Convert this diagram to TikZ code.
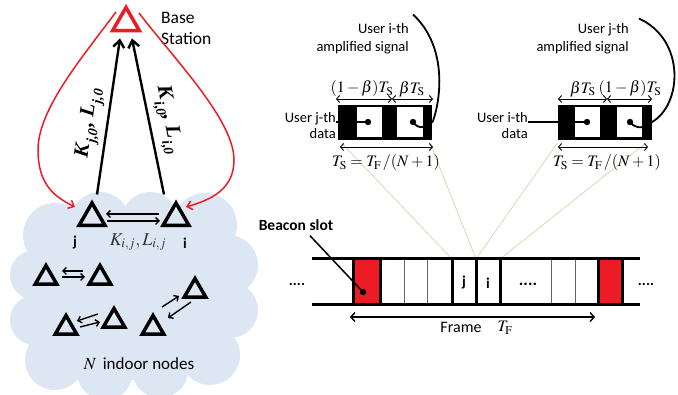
\documentclass[tikz,border=0pt]{standalone}
\usepackage{mathptmx}
\usepackage[no-math]{fontspec}
\setmainfont{Carlito}
\newfontfamily\tnrfont{Liberation Serif}
\newcommand\bsubx[1]{\kern1.5pt\raisebox{-0.3em}{\fontsize{14}{14}\selectfont #1}\kern0.5pt}
\usetikzlibrary{shapes.geometric,arrows.meta}
\definecolor{cloudblue}{RGB}{221,231,243}
\definecolor{tanline}{RGB}{226,212,176}
\definecolor{bsred}{RGB}{237,28,36}
\begin{document}
\begin{tikzpicture}[x=1pt,y=-1pt,
  tri/.style={regular polygon, regular polygon sides=3, minimum size=30pt, inner sep=0pt, draw=black, line width=3.5pt},
  smalltri/.style={tri, minimum size=25pt},
  bigarrow/.style={line width=2.4pt, -{Straight Barb[length=7pt,width=11pt]}},
  pairarrow/.style={line width=1.4pt, -{Straight Barb[length=3.5pt,width=7pt]}},
  redarrow/.style={bsred, line width=1.5pt, -{Straight Barb[length=5pt,width=9pt]}},
  dblarrow/.style={line width=0.9pt, {Straight Barb[length=3pt,width=7pt]}-{Straight Barb[length=3pt,width=7pt]}},
  framearrow/.style={line width=1.4pt, {Straight Barb[length=4pt,width=9pt]}-{Straight Barb[length=4pt,width=9pt]}},
  sans/.style={font=\fontsize{14.5}{17}\selectfont, inner sep=0pt},
  mathlbl/.style={font=\fontsize{16}{18}\selectfont, inner sep=0pt},
  biglbl/.style={font=\fontsize{18}{20}\selectfont, inner sep=0pt},
  uplbl/.style={font=\fontsize{21}{22}\selectfont\tnrfont\bfseries\itshape, inner sep=0pt},
  boldlbl/.style={font=\fontsize{15}{18}\selectfont\bfseries, inner sep=0pt},
  blackbox/.style={fill=black, inner sep=0pt, minimum width=94pt, minimum height=35pt},
  whitesq/.style={fill=white, inner sep=0pt, minimum height=30pt},
  faint/.style={draw=tanline, line width=0.8pt},
  thickv/.style={line width=3pt},
  thinv/.style={line width=0.8pt, draw=black!60},
  frameline/.style={line width=3pt}
]
\useasboundingbox (0,0) rectangle (678,395);

% cloud
\fill[cloudblue] (55,235) circle[radius=32] (100,222) circle[radius=30]
  (150,220) circle[radius=28] (205,225) circle[radius=32]
  (228,265) circle[radius=30] (230,310) circle[radius=28]
  (210,355) circle[radius=30] (160,370) circle[radius=28]
  (105,372) circle[radius=28] (55,360) circle[radius=30]
  (35,320) circle[radius=25] (35,275) circle[radius=25]
  (130,295) circle[radius=85];

% base station and nodes
\node[tri, draw=bsred, minimum size=31pt] (bs) at (126,23) {};
\node[sans, font=\fontsize{17.5}{21}\selectfont, align=left, anchor=west] (bslbl) at (161,28) {Base\\Station};
\node[tri] (j) at (92,218) {};
\node[tri] (i) at (176,218) {};
\node[smalltri] (t1) at (46,278) {};
\node[smalltri] (t2) at (100,278) {};
\node[smalltri] (t3) at (195,291) {};
\node[smalltri] (t4) at (66,328) {};
\node[smalltri] (t5) at (114,321) {};
\node[smalltri] (t6) at (153,328) {};

% uplinks
\draw[bigarrow] ([xshift=5pt,yshift=5pt]j.corner 1) -- ([xshift=-6pt,yshift=-6pt]bs.side 2);
\draw[bigarrow] ([xshift=-12pt,yshift=5pt]i.corner 1) -- ([xshift=6pt,yshift=-6pt]bs.side 2);
\node[uplbl, rotate=82] (kj0) at (90,123) {K\bsubx{j,0}, L\bsubx{j,0}};
\node[uplbl, rotate=-79] (ki0) at (167,120) {K\bsubx{i,0}, L\bsubx{i,0}};

% red loops
\draw[redarrow] ([xshift=-10pt,yshift=11pt]bs.center) .. controls (80,60) and (38,110) .. (38,150)
  .. controls (38,185) and (55,197) .. ([xshift=-17pt,yshift=11pt]j.center);
\draw[redarrow] ([xshift=13pt,yshift=10pt]bs.center) .. controls (175,60) and (234,120) .. (234,160)
  .. controls (234,190) and (210,200) .. ([xshift=10pt,yshift=11pt]i.center);

% pair arrows
\draw[pairarrow] ([xshift=-17pt,yshift=4pt]i.center) -- ([xshift=14pt,yshift=4pt]j.center);
\draw[pairarrow] ([xshift=15pt,yshift=-3pt]j.center) -- ([xshift=-16pt,yshift=-3pt]i.center);
\draw[pairarrow] ([xshift=-17pt,yshift=7pt]t2.center) -- ([xshift=16pt,yshift=7pt]t1.center);
\draw[pairarrow] ([xshift=16pt,yshift=1pt]t1.center) -- ([xshift=-15pt,yshift=1pt]t2.center);
\draw[pairarrow] ([xshift=-16pt,yshift=7pt]t5.center) -- ([xshift=11pt,yshift=7pt]t4.center);
\draw[pairarrow] ([xshift=14pt,yshift=1pt]t4.center) -- ([xshift=-14pt,yshift=-1pt]t5.center);
\draw[pairarrow] ([xshift=9pt,yshift=21pt]t6.center) -- ([xshift=-16pt,yshift=-5pt]t3.center);
\draw[pairarrow] ([xshift=-4pt,yshift=-11pt]t3.center) -- ([xshift=15pt,yshift=10pt]t6.center);

\node[biglbl, text=black!80] (kij) at (138,242) {$K_{i,j}, L_{i,j}$};
\node[boldlbl] (jl) at (75,243) {j};
\node[boldlbl] (il) at (185,243) {i};
\node[sans, font=\fontsize{17}{20}\selectfont] (nlbl) at (139,364) {$N$\, indoor nodes};

% slot coordinates
\coordinate (sj) at (452,259);
\coordinate (sji) at (476,259);
\coordinate (si) at (500,259);

% boxes
\node[blackbox] (lb) at (385,122.5) {};
\node[whitesq, minimum width=25pt] (lw1) at (369.5,122) {};
\node[whitesq, minimum width=26pt] (lw2) at (410,122) {};
\node[blackbox] (rb) at (604.5,122.5) {};
\node[whitesq, minimum width=25pt] (rw1) at (587.5,122) {};
\node[whitesq, minimum width=25pt] (rw2) at (629.5,122) {};

% faint lines
\draw[faint] ([xshift=4pt,yshift=-3pt]lb.south west) -- (sj);
\draw[faint] ([xshift=-2pt,yshift=-3pt]lb.south east) -- (sji);
\draw[faint] ([xshift=0pt,yshift=-3pt]rb.south west) -- (sji);
\draw[faint] ([xshift=-6pt,yshift=-3pt]rb.south east) -- (si);

% left box details
\coordinate (ld1) at (368,122);
\coordinate (ld2) at (413,122);
\fill (ld1) circle[radius=3.2];
\fill (ld2) circle[radius=3.2];
\node[sans, align=right, anchor=east, font=\fontsize{14.5}{16}\selectfont] (ujd) at (336,126) {User j-th\\data};
\draw[line width=2pt] (ujd.east |- ld1) -- (ld1);
\node[sans, align=right, anchor=east, font=\fontsize{14.5}{18}\selectfont] (uia) at (409,39) {User i-th\\amplified signal};
\draw[line width=1.8pt] (ld2) .. controls (418,130) and (428,128) .. (433,121)
  .. controls (442,95) and (446,45) .. ([xshift=4pt,yshift=9pt]uia.north east);
\draw[dblarrow] (336,99) -- (392,99);
\draw[dblarrow] (392,99) -- (433,99);
\draw[dblarrow] (340,147) -- (433,147);
\node[mathlbl] at (362,89) {$(1-\beta)T_{\mathrm{S}}$};
\node[mathlbl] at (412,89) {$\beta T_{\mathrm{S}}$};
\node[mathlbl] at (386,163) {$T_{\mathrm{S}}=T_{\mathrm{F}}\,/(N+1)$};

% right box details
\coordinate (rd1) at (587,122);
\coordinate (rd2) at (630,122);
\fill (rd1) circle[radius=3.2];
\fill (rd2) circle[radius=3.2];
\node[sans, align=right, anchor=east, font=\fontsize{14.5}{16}\selectfont] (uid) at (528,126) {User i-th\\data};
\draw[line width=2pt] (uid.east |- rd1) -- (rd1);
\node[sans, align=right, anchor=east, font=\fontsize{14.5}{18}\selectfont] (uja) at (629,39) {User j-th\\amplified signal};
\draw[line width=1.8pt] (rd2) .. controls (636,130) and (646,128) .. (652,122)
  .. controls (682,105) and (686,40) .. ([xshift=10pt,yshift=5pt]uja.north east);
\draw[dblarrow] (558,99) -- (607,99);
\draw[dblarrow] (607,99) -- (652,99);
\draw[dblarrow] (558,147) -- (648,147);
\node[mathlbl] at (583,89) {$\beta T_{\mathrm{S}}$};
\node[mathlbl] at (630,89) {$(1-\beta)T_{\mathrm{S}}$};
\node[mathlbl] at (607,163) {$T_{\mathrm{S}}=T_{\mathrm{F}}\,/(N+1)$};

% frame
\fill[bsred] (353,259) rectangle (380,305);
\fill[bsred] (598,259) rectangle (622,305);
\foreach \xx in {404,427,551,575} \draw[thinv] (\xx,259) -- (\xx,305);
\foreach \xx in {353,380,452,476,500,598,622} \draw[thickv] (\xx,259) -- (\xx,305);
\draw[frameline] (312,259) -- (640,259);
\draw[frameline] (312,305) -- (640,305);
\node[boldlbl] (slj) at (464,283) {j};
\node[boldlbl] (sli) at (488,283) {i};
\node[boldlbl, font=\fontsize{17}{18}\selectfont\bfseries] (sld) at (528,284) {....};
\node[boldlbl] (ldots) at (297,284) {....};
\node[boldlbl] (rdots) at (646,284) {....};

% beacon
\node[boldlbl, font=\fontsize{15.5}{18}\selectfont\bfseries] (beacon) at (296,225) {Beacon slot};
\coordinate (bdot) at (363,292);
\fill (bdot) circle[radius=3.2];
\draw[line width=1.5pt] ([xshift=14pt,yshift=-5pt]beacon.south) -- (bdot);

% frame length
\draw[framearrow] (350,317) -- (595,317);
\node[sans, font=\fontsize{16}{18}\selectfont] (frm) at (461,327) {Frame};
\node[mathlbl] (tf) at (505,328) {$T_{\mathrm{F}}$};
\end{tikzpicture}
\end{document}
